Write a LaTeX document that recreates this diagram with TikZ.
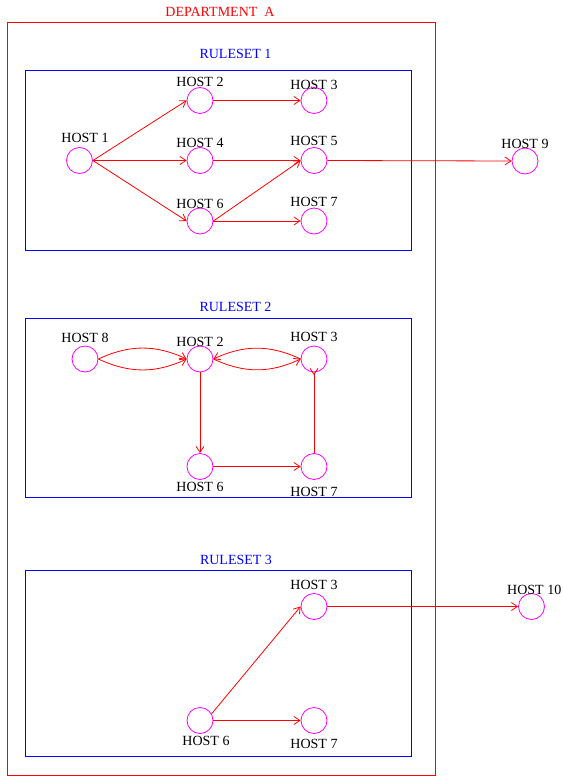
\documentclass[tikz,border=0pt]{standalone}
\usepackage{fontspec}
\setmainfont{Liberation Serif}
\usepackage{xcolor}
\usetikzlibrary{arrows.meta}
\definecolor{deptred}{RGB}{255,0,0}
\definecolor{setblue}{RGB}{0,0,255}
\definecolor{hostpink}{RGB}{255,0,255}

\tikzset{
  host/.style={circle, draw=hostpink, line width=0.8pt, minimum size=26pt, inner sep=0pt},
  hostlbl/.style={font=\fontsize{14}{16}\selectfont, inner sep=0pt},
  link/.style={draw=red, line width=0.8pt, -{Straight Barb[length=6pt,width=8pt]}},
  setbox/.style={draw=setblue, line width=0.8pt},
}

\begin{document}
\begin{tikzpicture}[x=1pt, y=-1pt]
    \useasboundingbox (0,0) rectangle (562,776);

    % Department
    \draw[deptred, line width=0.8pt] (7,22) rectangle (435,775);
    \node[hostlbl, text=deptred] (dept) at (220,11.5) {DEPARTMENT\ \ A};

    % Ruleset boxes
    \draw[setbox] (25,70) rectangle (411,250);
    \node[hostlbl, text=setblue] (set1) at (235.5,53.5) {RULESET 1};
    \draw[setbox] (25,318) rectangle (411,497.5);
    \node[hostlbl, text=setblue] (set2) at (235.5,307) {RULESET 2};
    \draw[setbox] (25,570.5) rectangle (411,756.5);
    \node[hostlbl, text=setblue] (set3) at (236,560) {RULESET 3};

    % Ruleset 1 hosts
    \node[host] (a1) at (79.5,160.5) {};
    \node[hostlbl] (a1t) at (85,138) {HOST 1};
    \node[host] (a2) at (200,100.5) {};
    \node[hostlbl] (a2t) at (200,81.5) {HOST 2};
    \node[host] (a3) at (314,100.5) {};
    \node[hostlbl] (a3t) at (314,85) {HOST 3};
    \node[host] (a4) at (200,160.5) {};
    \node[hostlbl] (a4t) at (200,142.5) {HOST 4};
    \node[host] (a5) at (314,160.5) {};
    \node[hostlbl] (a5t) at (314,140.5) {HOST 5};
    \node[host] (a6) at (200,221) {};
    \node[hostlbl] (a6t) at (200,204) {HOST 6};
    \node[host] (a7) at (314,221) {};
    \node[hostlbl] (a7t) at (314,202) {HOST 7};

    % Host 9 outside
    \node[host] (h9) at (525,161) {};
    \node[hostlbl] (h9t) at (525,143.5) {HOST 9};

    % Ruleset 1 links
    \draw[link] (a1.east) -- (a2.west);
    \draw[link] (a1.east) -- (a4.west);
    \draw[link] (a1.east) -- (a6.west);
    \draw[link] (a2.east) -- (a3.west);
    \draw[link] (a4.east) -- (a5.west);
    \draw[link] (a6.east) -- (a5.west);
    \draw[link] (a6.east) -- (a7.west);
    \draw[link] (a5.east) -- (h9.west);

    % Ruleset 2 hosts
    \node[host] (b8) at (85,359) {};
    \node[hostlbl] (b8t) at (85,338) {HOST 8};
    \node[host] (b2) at (200,359) {};
    \node[hostlbl] (b2t) at (200,341.5) {HOST 2};
    \node[host] (b3) at (314,359) {};
    \node[hostlbl] (b3t) at (314,337) {HOST 3};
    \node[host] (b6) at (200,466.5) {};
    \node[hostlbl] (b6t) at (200,487) {HOST 6};
    \node[host] (b7) at (314,466.5) {};
    \node[hostlbl] (b7t) at (314,491.5) {HOST 7};
    \coordinate (b3in) at (314,368);

    % Ruleset 2 links
    \draw[link] (b8.east) to[bend left=25] (b2.west);
    \draw[link] (b8.east) to[bend right=25] (b2.west);
    \draw[link] (b3.west) to[bend right=25] (b2.east);
    \draw[link] (b2.east) to[bend right=25] (b3.west);
    \draw[link] (b2.south) -- (b6.north);
    \draw[link] (b6.east) -- (b7.west);
    \draw[draw=red, line width=0.8pt, -{Straight Barb[length=6pt,width=8pt,reversed]}] (b7.north) -- (b3in);

    % Ruleset 3 hosts
    \node[host] (c3) at (314,606.5) {};
    \node[hostlbl] (c3t) at (314,585) {HOST 3};
    \node[host] (c6) at (200,720.5) {};
    \node[hostlbl] (c6t) at (206,741) {HOST 6};
    \node[host] (c7) at (314,720.5) {};
    \node[hostlbl] (c7t) at (314,744) {HOST 7};

    % Host 10 outside
    \node[host] (h10) at (531.5,606.5) {};
    \node[hostlbl, anchor=west] (h10t) at (507,590) {HOST 10};

    % Ruleset 3 links
    \draw[link] (c6.30) -- (c3.west);
    \draw[link] (c6.east) -- (c7.west);
    \draw[link] (c3.east) -- (h10.west);
\end{tikzpicture}
\end{document}
